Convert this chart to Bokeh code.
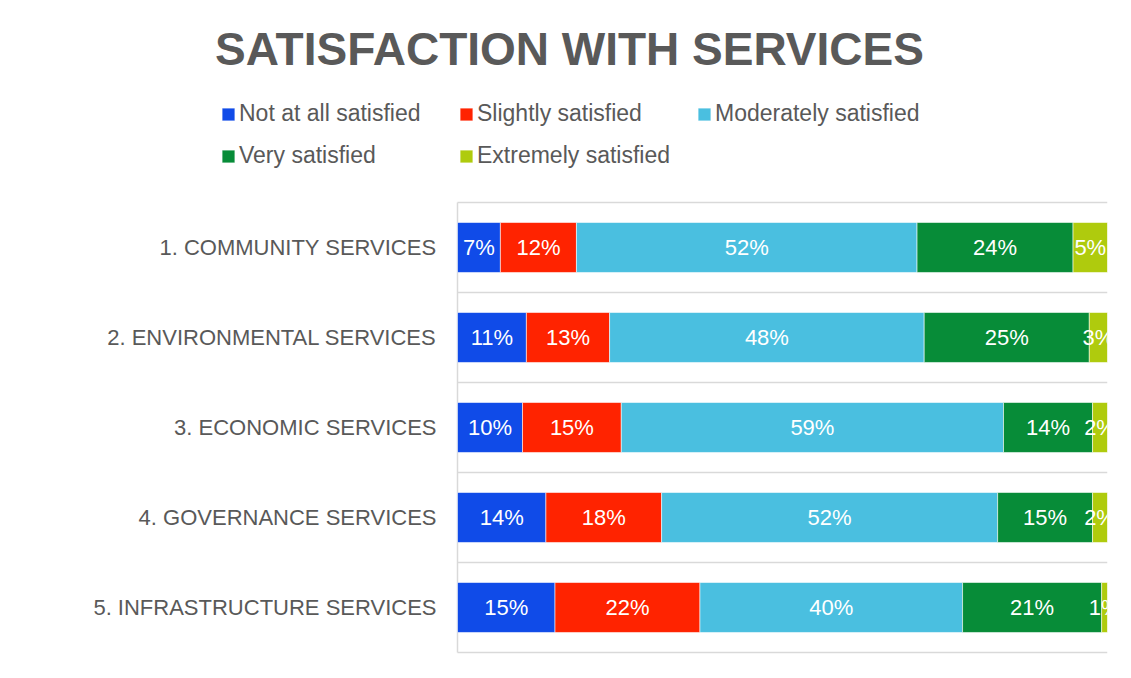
from bokeh.plotting import figure
from bokeh.models import Range1d, Legend, LegendItem, Label, ColumnDataSource
from bokeh.core.properties import value
from bokeh.embed import file_html
from bokeh.resources import INLINE

categories = ["1. COMMUNITY SERVICES", "2. ENVIRONMENTAL SERVICES", "3. ECONOMIC SERVICES",
              "4. GOVERNANCE SERVICES", "5. INFRASTRUCTURE SERVICES"]
series = ["Not at all satisfied", "Slightly satisfied", "Moderately satisfied",
          "Very satisfied", "Extremely satisfied"]
not_at_all = [6.6, 10.6, 10.0, 13.6, 15.0]
slightly = [11.7, 12.8, 15.2, 17.8, 22.3]
moderately = [52.4, 48.4, 58.8, 51.7, 40.4]
very = [24.0, 25.4, 13.7, 14.6, 21.4]
extremely = [5.3, 2.8, 2.3, 2.3, 0.9]
colors = ["#104BE8", "#FF2300", "#4ABFE0", "#078C38", "#AFCB0D"]

FONT = "Liberation Sans"
GREY = "#595959"
LINE = "#d9d9d9"

W, H = 1115, 662
PLOT_LEFT, PLOT_RIGHT_PAD, PLOT_TOP, PLOT_BOTTOM_PAD = 457, 8, 202, 10
n = len(categories)
px_per_x = (W - PLOT_LEFT - PLOT_RIGHT_PAD) / 100.0
px_per_y = (H - PLOT_TOP - PLOT_BOTTOM_PAD) / n

keys = ["s0", "s1", "s2", "s3", "s4"]
values = [not_at_all, slightly, moderately, very, extremely]
ypos = [n - 0.5 - i for i in range(n)]  # first category on top
data = {"cat": categories, "y": ypos}
for k, v in zip(keys, values):
    data[k] = v
source = ColumnDataSource(data)

p = figure(width=W, height=H, title=None,
           x_range=Range1d(-PLOT_LEFT / px_per_x, 100),
           y_range=Range1d(-PLOT_BOTTOM_PAD / px_per_y, n + PLOT_TOP / px_per_y),
           output_backend="svg", toolbar_location=None,
           min_border_left=0, min_border_right=PLOT_RIGHT_PAD, min_border_top=0, min_border_bottom=0)
p.outline_line_color = None
p.xaxis.visible = False
p.yaxis.visible = False
p.xgrid.visible = False
p.ygrid.visible = False

# category separators and the left axis line
seps = list(range(n + 1))
p.segment(x0=[0] * len(seps), x1=[100] * len(seps), y0=seps, y1=seps, line_color=LINE, line_width=1.5)
p.segment(x0=[0], x1=[0], y0=[0], y1=[n], line_color=LINE, line_width=1.5)

renderers = p.hbar_stack(keys, y="y", height=0.555, color=colors, source=source,
                         line_color="white", line_width=0.8, line_alpha=0.7)

# value labels
lx, ly, lt = [], [], []
for i in range(n):
    cum = 0.0
    for v in values:
        val = v[i]
        lx.append(cum + val / 2)
        ly.append(ypos[i])
        lt.append(f"{val:.0f}%")
        cum += val
p.text(x=lx, y=ly, text=lt, text_color="white", text_align="center", text_baseline="middle",
       text_font=value(FONT), text_font_size="22px")

# category labels
p.text(x=[-21 / px_per_x] * n, y=ypos, text=categories, text_color=GREY, text_align="right",
       text_baseline="middle", text_font=value(FONT), text_font_size="22px")

legend = Legend(items=[LegendItem(label=s, renderers=[r]) for s, r in zip(series, renderers)],
                location=(220, 493), orientation="horizontal", ncols=3,
                glyph_width=16, glyph_height=16, label_standoff=3, label_width=204,
                label_height=25, spacing=15, padding=0, margin=0,
                border_line_color=None, background_fill_alpha=0,
                label_text_font=FONT, label_text_font_size="23px", label_text_color=GREY)
p.add_layout(legend)

title = Label(x=569, y=H - 48, x_units="screen", y_units="screen", text="SATISFACTION WITH SERVICES",
              text_font=FONT, text_font_style="bold", text_font_size="46px", text_color=GREY,
              text_align="center", text_baseline="middle")
p.add_layout(title)

open("out.html", "w").write(file_html(p, INLINE))
